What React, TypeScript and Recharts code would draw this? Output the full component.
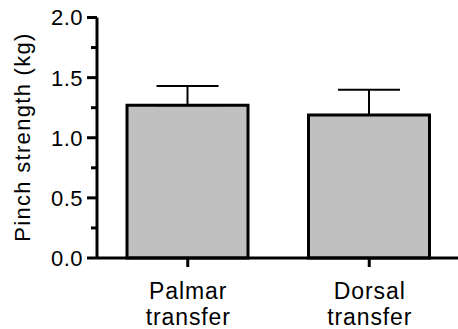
import React from 'react';
import { BarChart, Bar, XAxis, YAxis, ErrorBar } from 'recharts';

const categories = ['Palmar transfer', 'Dorsal transfer'];
const means = [1.27, 1.19];
const errUpper = [0.16, 0.21];
const yTicks = [0, 0.25, 0.5, 0.75, 1.0, 1.25, 1.5, 1.75, 2.0];

const data = categories.map((c, i) => ({ name: c, value: means[i], err: [0, errUpper[i]] }));

const FONT = '"Liberation Sans", Arial, Helvetica, sans-serif';

const YTick = (props: any) => {
  const { x, y, payload } = props;
  const v = payload.value as number;
  const major = Math.abs(v * 2 - Math.round(v * 2)) < 1e-6;
  return (
    <g>
      <line x1={x} x2={x - (major ? 10 : 6)} y1={y} y2={y} stroke="#000" strokeWidth={3} />
      {major && (
        <text x={x - 14} y={y} dy="0.36em" textAnchor="end" fontSize={22} letterSpacing={0.5} fontFamily={FONT} fill="#000">
          {v.toFixed(1)}
        </text>
      )}
    </g>
  );
};

const XTick = (props: any) => {
  const { x, y, payload } = props;
  const parts = String(payload.value).split(' ');
  return (
    <g>
      <line x1={x} x2={x} y1={y} y2={y + 9} stroke="#000" strokeWidth={3} />
      <text x={x + 0.5} y={y + 41} textAnchor="middle" fontSize={23} letterSpacing={0.9} fontFamily={FONT} fill="#000">
        {parts[0]}
      </text>
      <text x={x + 0.5} y={y + 67} textAnchor="middle" fontSize={23} letterSpacing={0.9} fontFamily={FONT} fill="#000">
        {parts[1]}
      </text>
    </g>
  );
};

export default function App() {
  return (
    <div style={{ position: 'absolute', left: 0, top: 0, background: '#fff' }}>
      <BarChart width={458} height={329} data={data} margin={{ top: 17.5, right: -2, left: 0, bottom: 0 }}>
        <XAxis
          dataKey="name"
          height={71}
          tickSize={0}
          tickMargin={0}
          tickLine={false}
          tick={<XTick />}
          axisLine={{ stroke: '#000', strokeWidth: 3 }}
          interval={0}
        />
        <YAxis
          width={97}
          domain={[0, 2]}
          ticks={yTicks}
          interval={0}
          tickSize={0}
          tickMargin={0}
          tickLine={false}
          tick={<YTick />}
          axisLine={{ stroke: '#000', strokeWidth: 3 }}
          label={{
            content: () => (
              <text
                x={22}
                y={137}
                transform="rotate(-90 22 137)"
                textAnchor="middle"
                dominantBaseline="central"
                fontSize={22}
                letterSpacing={1.3}
                fontFamily={FONT}
                fill="#000"
              >
                Pinch strength (kg)
              </text>
            ),
          }}
        />
        <Bar dataKey="value" fill="#c0c0c0" stroke="#000" strokeWidth={3} barSize={121} isAnimationActive={false}>
          <ErrorBar dataKey="err" direction="y" width={31} stroke="#000" strokeWidth={2} isAnimationActive={false} />
        </Bar>
      </BarChart>
    </div>
  );
}
